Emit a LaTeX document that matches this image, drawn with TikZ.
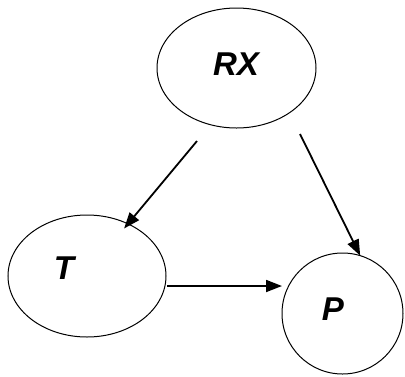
\documentclass[tikz,border=0pt]{standalone}
\usepackage{fontspec}
\setmainfont{Liberation Sans}
\usetikzlibrary{shapes}
\usetikzlibrary{calc}
\usetikzlibrary{arrows.meta,arrows}
\tikzset{%
  % Specifications for style of nodes:
    >={Triangle[width=12pt,length=16pt]},
}

\begin{document}
\begin{tikzpicture}[x=1pt, y=-1pt,
    var/.style={draw, ellipse, line width=1pt, inner sep=0, outer sep=0},
    lbl/.style={font=\fontsize{33}{38}\selectfont\bfseries\itshape},
    edge/.style={->, line width=1.8pt}
  ]
    \useasboundingbox (0,0) rectangle (405,376);
    % variables
    \node[var, minimum width=159pt, minimum height=120pt] (RX) at (236.5,68) {};
    \node[var, minimum width=158pt, minimum height=122pt] (T) at (87,276) {};
    \node[var, minimum width=121pt, minimum height=121pt] (P) at (342.5,313.5) {};
    \node[lbl] (RX-text) at (236,64) {RX};
    \node[lbl] (T-text) at (64,268) {T};
    \node[lbl] (P-text) at (333,309) {P};
    % free ends of the arrows
    \coordinate (rx-t) at (197,141);
    \coordinate (rx-p) at (300,134);
    \coordinate (t-p) at (167,286);
    \draw[edge] (rx-t) -- ($(T.52)!6pt!(T.center)$);
    \draw[edge] (rx-p) -- (P.73);
    \draw[edge] (t-p) -- (t-p -| P.west);
\end{tikzpicture}
\end{document}
